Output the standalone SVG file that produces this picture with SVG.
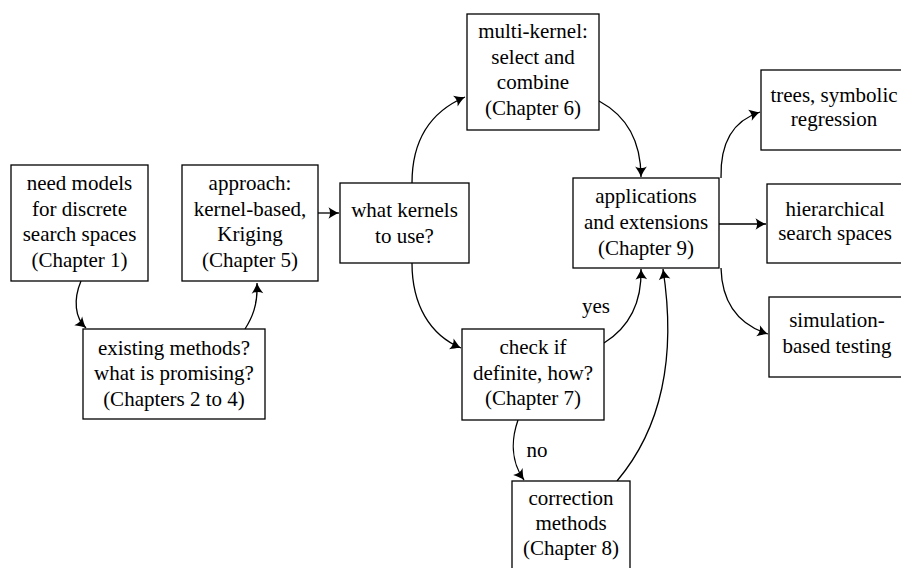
<svg xmlns="http://www.w3.org/2000/svg" width="901" height="568" viewBox="0 0 901 568">
  <style>
    .box { fill: #ffffff; stroke: #000000; stroke-width: 1.3; }
    .lbl { font-family: "Times New Roman", Times, Tinos, "Liberation Serif", "Nimbus Roman", "Nimbus Roman No9 L", "FreeSerif", "Noto Serif", "DejaVu Serif", serif; font-size: 21px; fill: #000000; text-anchor: middle; }
    .edge { fill: none; stroke: #000000; stroke-width: 1.3; marker-end: url(#tip); }
  </style>
  <defs>
    <marker id="tip" markerUnits="userSpaceOnUse" markerWidth="14" markerHeight="14" viewBox="-10 -6 12 12" refX="0" refY="0" orient="auto">
      <path d="M 0 0 C -3 -1 -6 -3 -9 -5 C -7.2 -1.8 -7.2 1.8 -9 5 C -6 3 -3 1 0 0 Z" fill="#000000"/>
    </marker>
  </defs>

  <rect width="901" height="568" fill="#ffffff"/>

  <!-- connectors -->
  <g id="connectors">
    <path class="edge" d="M 81 281 C 73 300 75 318 86 328"/>
    <path class="edge" d="M 245 329 C 252 318 258 305 257 283"/>
    <path class="edge" d="M 318 213 L 339 213"/>
    <path class="edge" d="M 412 183 C 412 140 430 112 465 97"/>
    <path class="edge" d="M 599 101 C 625 115 641 140 641 177"/>
    <path class="edge" d="M 412 263 C 412 305 430 335 461 348"/>
    <path class="edge" d="M 604 343 C 628 328 642 305 641 269"/>
    <path class="edge" d="M 518 420 C 511 440 511 462 524 480"/>
    <path class="edge" d="M 617 481 C 660 430 677 360 663 269"/>
    <path class="edge" d="M 721 178 C 720 140 735 120 760 112"/>
    <path class="edge" d="M 719 224 L 766 224"/>
    <path class="edge" d="M 721 268 C 722 305 740 325 768 334"/>
    <text class="lbl" x="596" y="313">yes</text>
    <text class="lbl" x="537" y="457">no</text>
  </g>

  <!-- nodes -->
  <g id="need-models">
    <rect class="box" x="11" y="165" width="137" height="116"/>
    <text class="lbl" x="79.5" y="190">need models</text>
    <text class="lbl" x="79.5" y="216">for discrete</text>
    <text class="lbl" x="79.5" y="241">search spaces</text>
    <text class="lbl" x="79.5" y="267">(Chapter 1)</text>
  </g>

  <g id="existing-methods">
    <rect class="box" x="83" y="329" width="182" height="90"/>
    <text class="lbl" x="174" y="355">existing methods?</text>
    <text class="lbl" x="174" y="380">what is promising?</text>
    <text class="lbl" x="174" y="406">(Chapters 2 to 4)</text>
  </g>

  <g id="approach">
    <rect class="box" x="182" y="165" width="136" height="116"/>
    <text class="lbl" x="250" y="190">approach:</text>
    <text class="lbl" x="250" y="216">kernel-based,</text>
    <text class="lbl" x="250" y="241">Kriging</text>
    <text class="lbl" x="250" y="267">(Chapter 5)</text>
  </g>

  <g id="what-kernels">
    <rect class="box" x="340" y="183" width="129" height="80"/>
    <text class="lbl" x="404.5" y="217">what kernels</text>
    <text class="lbl" x="404.5" y="243">to use?</text>
  </g>

  <g id="multi-kernel">
    <rect class="box" x="467" y="14" width="132" height="116"/>
    <text class="lbl" x="533" y="38">multi-kernel:</text>
    <text class="lbl" x="533" y="64">select and</text>
    <text class="lbl" x="533" y="89">combine</text>
    <text class="lbl" x="533" y="115">(Chapter 6)</text>
  </g>

  <g id="check-definite">
    <rect class="box" x="462" y="329" width="142" height="91"/>
    <text class="lbl" x="533" y="354">check if</text>
    <text class="lbl" x="533" y="380">definite, how?</text>
    <text class="lbl" x="533" y="405">(Chapter 7)</text>
  </g>

  <g id="correction">
    <rect class="box" x="512" y="481" width="118" height="92"/>
    <text class="lbl" x="571" y="505">correction</text>
    <text class="lbl" x="571" y="530">methods</text>
    <text class="lbl" x="571" y="555">(Chapter 8)</text>
  </g>

  <g id="applications">
    <rect class="box" x="573" y="178" width="146" height="90"/>
    <text class="lbl" x="646" y="203">applications</text>
    <text class="lbl" x="646" y="229">and extensions</text>
    <text class="lbl" x="646" y="255">(Chapter 9)</text>
  </g>

  <g id="trees">
    <rect class="box" x="761" y="70" width="146" height="80"/>
    <text class="lbl" x="834" y="102">trees, symbolic</text>
    <text class="lbl" x="834" y="126">regression</text>
  </g>

  <g id="hierarchical">
    <rect class="box" x="767" y="184" width="136" height="79"/>
    <text class="lbl" x="835" y="216">hierarchical</text>
    <text class="lbl" x="835" y="240">search spaces</text>
  </g>

  <g id="simulation">
    <rect class="box" x="769" y="297" width="136" height="80"/>
    <text class="lbl" x="837" y="327">simulation-</text>
    <text class="lbl" x="837" y="353">based testing</text>
  </g>
</svg>
